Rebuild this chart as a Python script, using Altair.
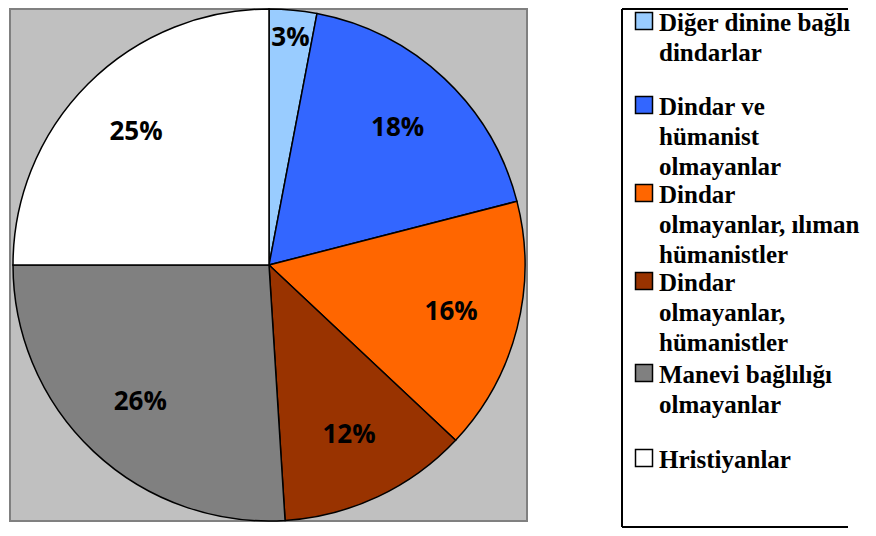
import altair as alt
import pandas as pd

# ---- data ----
categories = [
    "Diğer dinine bağlı dindarlar",
    "Dindar ve hümanist olmayanlar",
    "Dindar olmayanlar, ılıman hümanistler",
    "Dindar olmayanlar, hümanistler",
    "Manevi bağlılığı olmayanlar",
    "Hristiyanlar",
]
values = [3, 18, 16, 12, 26, 25]
colors = ["#99CCFF", "#3366FF", "#FF6600", "#993300", "#808080", "#FFFFFF"]
legend_lines = [
    ["Diğer dinine bağlı", "dindarlar"],
    ["Dindar ve", "hümanist", "olmayanlar"],
    ["Dindar", "olmayanlar, ılıman", "hümanistler"],
    ["Dindar", "olmayanlar,", "hümanistler"],
    ["Manevi bağlılığı", "olmayanlar"],
    ["Hristiyanlar"],
]

# ---- layout (pixels, chart coordinates) ----
W, H = 860, 520
CX, CY, R = 261, 257, 256
entry_top = [23, 107, 195, 283, 375, 460]   # baseline of first line of each entry
line_pitch = 30
text_x = 651
swatch_x = 636

df = pd.DataFrame({
    "cat": categories,
    "value": values,
    "order": list(range(len(values))),
    "label": [f"{v}%" for v in values],
})

leg_rows = []
for i, (cat, lines) in enumerate(zip(categories, legend_lines)):
    for j, ln in enumerate(lines):
        leg_rows.append({"cat": cat, "text": ln, "py": entry_top[i] + j * line_pitch, "first": j == 0})
leg = pd.DataFrame(leg_rows)

color_scale = alt.Scale(domain=categories, range=colors)
one = pd.DataFrame({"a": [0]})

plot_bg = alt.Chart(one).mark_rect(fill="#C0C0C0", stroke="#808080", strokeWidth=2).encode(
    x=alt.value(2), x2=alt.value(519), y=alt.value(1), y2=alt.value(513)
)
# legend frame: left, top and bottom edges (right edge lies outside the picture)
frame_kw = dict(color="black", strokeWidth=2, strokeCap="butt")
frame_left = alt.Chart(one).mark_rule(**frame_kw).encode(
    x=alt.value(614), y=alt.value(1), y2=alt.value(519))
frame_top = alt.Chart(one).mark_rule(**frame_kw).encode(
    x=alt.value(614), x2=alt.value(W - 20), y=alt.value(1))
frame_bottom = alt.Chart(one).mark_rule(**frame_kw).encode(
    x=alt.value(614), x2=alt.value(W - 20), y=alt.value(519))

base = alt.Chart(df)
arcs = base.mark_arc(outerRadius=R, stroke="black", strokeWidth=1.5).encode(
    theta=alt.Theta("value:Q", stack=True),
    order=alt.Order("order:Q"),
    color=alt.Color("cat:N", scale=color_scale, legend=None),
    x=alt.value(CX), y=alt.value(CY),
)

lab_kw = dict(font="Open Sans", fontWeight="bold", fontSize=26, color="black",
              align="center", baseline="middle")
theta_scale = alt.Scale(domain=[0, 100], range=[0, 6.283185307])
stacked = alt.Chart(df).transform_stack(
    stack="value", groupby=[], as_=["v0", "v1"], sort=[alt.SortField("order")]
).transform_calculate(
    mid="(datum.v0 + datum.v1) / 2"
)
labels_main = stacked.transform_filter(alt.datum.value >= 5).mark_text(radius=188, **lab_kw).encode(
    theta=alt.Theta("mid:Q", scale=theta_scale),
    text="label:N",
    x=alt.value(CX), y=alt.value(CY),
)
labels_small = stacked.transform_filter(alt.datum.value < 5).mark_text(radius=228, **lab_kw).encode(
    theta=alt.Theta("mid:Q", scale=theta_scale),
    text="label:N",
    x=alt.value(CX), y=alt.value(CY),
)

swatches = alt.Chart(leg).transform_filter(alt.datum.first).transform_calculate(
    sy="datum.py - 10"
).mark_square(
    size=289, stroke="black", strokeWidth=1.5, opacity=1
).encode(
    x=alt.value(swatch_x),
    y=alt.Y("sy:Q", scale=None),
    color=alt.Color("cat:N", scale=color_scale, legend=None),
)

leg_text = alt.Chart(leg).mark_text(
    font="Liberation Serif", fontWeight="bold", fontSize=25, color="black",
    align="left", baseline="alphabetic"
).encode(
    x=alt.value(text_x),
    y=alt.Y("py:Q", scale=None),
    text="text:N",
)

chart = alt.layer(
    plot_bg, frame_left, frame_top, frame_bottom, arcs, labels_main, labels_small,
    swatches, leg_text
).properties(
    width=W, height=H, padding=0, autosize="none", background="white"
).configure_view(strokeWidth=0)

chart.save("out.html", embed_options={"renderer": "svg", "actions": False})
